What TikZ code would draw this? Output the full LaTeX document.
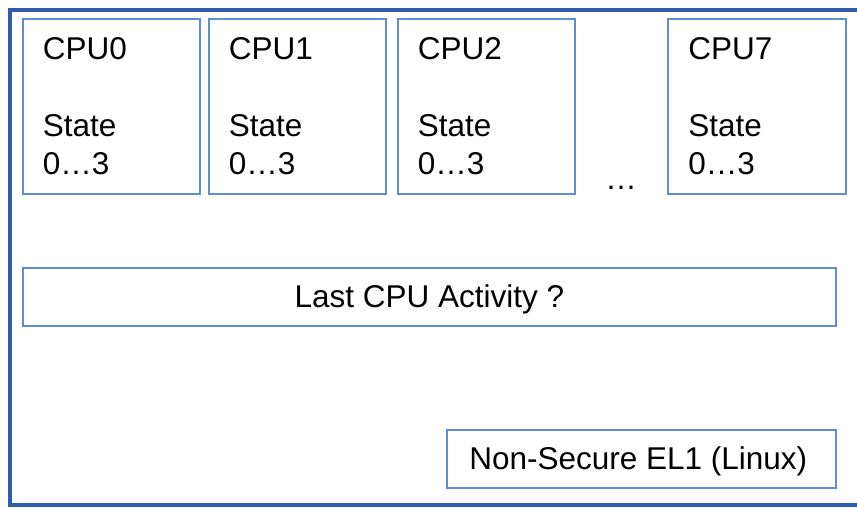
\documentclass[tikz,border=0pt]{standalone}
\usepackage{fontspec}
\setmainfont{Liberation Sans}
\usepackage{tikz}
\usetikzlibrary{positioning}
\definecolor{framecol}{RGB}{47,92,172}
\definecolor{boxcol}{RGB}{92,142,216}

\begin{document}
\begin{tikzpicture}
[x=1pt,y=-1pt,
font=\fontsize{31.5}{38.5}\selectfont,
cpu/.style={draw=boxcol,line width=1.6pt,anchor=north west,align=left,
  text width=137pt,minimum width=177pt,minimum height=175pt,
  inner xsep=20pt,inner ysep=0pt},
bar/.style={draw=boxcol,line width=1.6pt,anchor=north west,
  minimum height=58pt,inner sep=0pt,text height=25pt,text depth=3pt}]
\useasboundingbox (0,0) rectangle (857,507);
\begin{scope}
\clip (0,0) rectangle (857,507);
\draw[framecol,line width=4pt] (10,10) rectangle (880,505);
\end{scope}

\node[cpu] (cpu0) at (22,18)  {CPU0\\[38.5pt]State\\0…3};
\node[cpu] (cpu1) at (208,18) {CPU1\\[38.5pt]State\\0…3};
\node[cpu] (cpu2) at (397,18) {CPU2\\[38.5pt]State\\0…3};
\node[cpu,minimum width=178pt] (cpu7) at (667,18) {CPU7\\[38.5pt]State\\0…3};
\node[anchor=base,inner sep=0pt] (dots) at (621,189) {…};

\node[bar,minimum width=813pt] (last) at (22,267) {Last CPU Activity ?};
\node[bar,minimum width=389pt] (ns) at (446,429) {Non-Secure EL1 (Linux)\hspace*{6pt}};
\end{tikzpicture}
\end{document}
